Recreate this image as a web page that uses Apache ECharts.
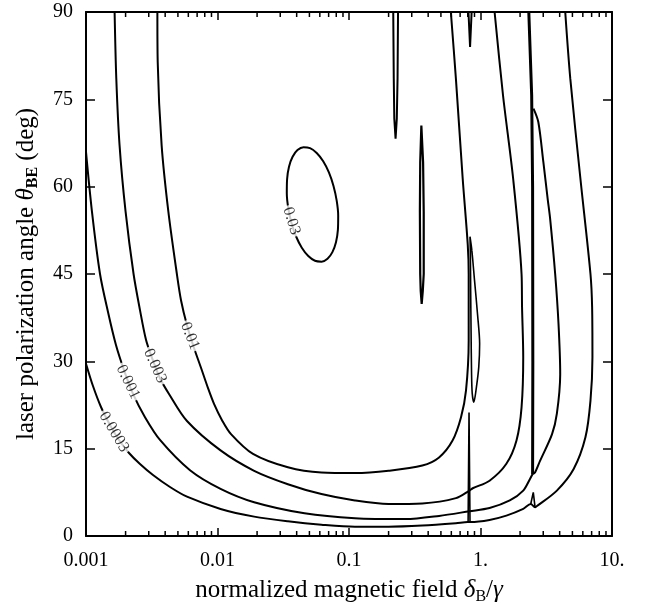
<!DOCTYPE html>
<html><head><meta charset="utf-8">
<script src="https://cdn.jsdelivr.net/npm/echarts@6/dist/echarts.min.js"></script>
<style>html,body{margin:0;padding:0;background:#fff}#c{width:645px;height:612px}</style>
</head><body><div id="c"></div>
<script>
// ---- axis ticks ----
const xTickValues = [0.001, 0.01, 0.1, 1, 10];
const xTickLabels = ['0.001', '0.01', '0.1', '1.', '10.'];
const xMinorTicks = [0.002,0.003,0.004,0.005,0.006,0.007,0.008,0.009,
                     0.02,0.03,0.04,0.05,0.06,0.07,0.08,0.09,
                     0.2,0.3,0.4,0.5,0.6,0.7,0.8,0.9,
                     2,3,4,5,6,7,8,9];
const yTickValues = [0, 15, 30, 45, 60, 75, 90];

// ---- contour 0.0003 ----
const c0003X = [0.001,0.00113,0.0013,0.001522,0.001782,0.002123,0.002574,0.003232,0.004353,0.00586,0.01055,0.019,0.0343,0.0617,0.111,0.2,0.361,0.65,0.80,0.838,1.172,1.573,2.113,2.41,2.6,2.673,3.808,5.11,6.28,6.86,7.1,7.06,6.86,5.75,4.82,4.41];
const c0003Y = [29.6,25.76,22.16,19.07,16.49,14.26,12.37,10.48,8.42,6.75,4.65,3.33,2.53,1.95,1.6,1.6,1.8,2.2,2.4,2.4,2.76,3.5,4.65,5.5,4.93,5.1,7.8,11.5,16.95,23.25,30.7,39.3,45,61.4,78.5,90];
const s0003aX = [0.805,0.818,0.832];
const s0003aY = [2.4,21.2,2.4];
const s0003bX = [2.41,2.52,2.6];
const s0003bY = [5.5,7.5,4.93];

// ---- contour 0.001 ----
const c001X = [0.001,0.00111,0.001278,0.00147,0.00169,0.001945,0.002278,0.00281,0.003653,0.00618,0.01055,0.019,0.0459,0.111,0.269,0.484,0.824,1.172,1.67,2.113,2.378,2.49];
const c001Y = [65.96,55.7,45.0,38.47,32.8,28.5,24.4,20.4,16.5,11.3,8.1,5.8,3.9,3.05,2.9,3.45,4.25,4.8,6.1,7.8,9.8,10.65];
const c001vX = [2.49,2.5,2.49,2.45,2.33];
const c001vY = [10.65,30,60,75.7,90];
const c001rX = [2.53,2.752,3.007,3.25,3.384,3.697,3.92,4.038,3.808,3.5,2.836,2.596,2.49];
const c001rY = [73.4,71.1,64.2,57.7,54.5,45.0,36.4,27.8,21.0,17.5,12.9,10.9,10.65];

// ---- contour 0.003 ----
const c003X = [0.00165,0.0017,0.0018,0.002,0.0023,0.002574,0.002859,0.003176,0.003653,0.004278,0.00586,0.01055,0.019,0.0343,0.0617,0.111,0.2,0.361,0.65,0.824,0.873,1.172,1.573,1.878,2.052,2.113,2.07,2.052,1.771,1.483,1.28];
const c003Y = [90,78.55,67.1,55.7,45,38.8,33.7,30.6,27.1,24.4,19.75,14.7,11.2,8.9,7.2,6.1,5.5,5.6,6.5,7.8,8.2,9.5,12.4,16.4,22.1,30.7,39.3,45,61.4,75.7,90];

// ---- contour 0.01 ----
const c01X = [0.00349,0.00351,0.00376,0.00423,0.00491,0.005278,0.00586,0.00663,0.00749,0.00847,0.00941,0.01082,0.01267,0.01862,0.0343,0.0617,0.111,0.2,0.361,0.484,0.613,0.711,0.776,0.813,0.813,0.80,0.732,0.65,0.595];
const c01Y = [90,81.4,67.1,55.7,45,40.5,36.2,32.3,28.9,25.4,22.7,19.9,17.5,14.1,11.8,10.9,10.8,11.2,12.1,13.5,16.4,20.4,25.0,33.55,45,50,61.4,78.55,90];
// narrow closed 0.01 loop near the resonance at ~0.9
const loop01X = [0.832,0.86,0.9,0.95,0.985,0.97,0.93,0.89,0.865,0.855,0.848,0.842,0.838,0.832,0.86];
const loop01Y = [51.4,49,44,38,33,29,25.5,23,24.5,28,35,42,48,51.4,49];

// ---- contour 0.03 (closed loop, first points repeated to close smoothly) ----
const c03X = [0.04902,0.05513,0.06187,0.06864,0.07478,0.07962,0.08232,0.08276,0.08061,0.07623,0.07033,0.06366,0.05681,0.05051,0.04508,0.04058,0.03725,0.03497,0.03383,0.03365,0.03454,0.03652,0.0396,0.04376,0.04902,0.05513,0.06187];
const c03Y = [48.09,47.27,47.10,47.60,48.75,50.45,52.58,55.02,57.59,60.12,62.44,64.36,65.78,66.61,66.78,66.28,65.13,63.43,61.28,58.85,56.29,53.76,51.44,49.52,48.09,47.27,47.10];

// ---- narrow resonance spikes ----
const spikeAX = [0.217,0.219,0.221,0.226,0.231,0.234,0.236];
const spikeAY = [90,78.6,71.7,68.25,71.7,78.6,90];
const spikeBX = [0.355,0.348,0.346,0.348,0.351,0.357,0.364,0.37,0.37,0.366,0.355];
const spikeBY = [70.5,64.2,55.7,45,42.1,39.85,42.1,45,55.7,64.2,70.5];
const spikeCX = [0.81,0.823,0.833,0.843,0.856];
const spikeCY = [90,86.6,84.0,86.6,90];

// ---- contour labels ----
const labelText = ['0.03','0.01','0.003','0.001','0.0003'];
const labelX = [0.03652,0.00618,0.003348,0.002086,0.001633];
const labelY = [54.1,34.35,29.2,26.45,17.86];
const labelRotate = [-73,-68,-66,-64,-59];

const FONT = '"Liberation Serif", "Times New Roman", serif';
function pairs(xs, ys){ return xs.map((x,i)=>[x, ys[i]]); }
function lineSeries(xs, ys, smooth, width){
  return {type:'line', data:pairs(xs,ys), showSymbol:false, symbol:'none', smooth:smooth||false,
    lineStyle:{color:'#000', width:width||2}, silent:true, animation:false, z:3};
}
const minorData = [];
xMinorTicks.forEach(v=>{ minorData.push([v,0]); minorData.push([v,90]); });

const chart = echarts.init(document.getElementById('c'));
const axisLine = {show:true, onZero:false, lineStyle:{color:'#000', width:2}};
const TS = 25;
const titleRich = {
  it:{fontStyle:'italic', fontFamily:FONT, fontSize:TS, color:'#000'},
  sub:{fontFamily:FONT, fontSize:16, color:'#000', verticalAlign:'bottom', lineHeight:17},
  subb:{fontFamily:FONT, fontSize:16, fontWeight:'bold', color:'#000', verticalAlign:'bottom', lineHeight:17}
};
chart.setOption({
  animation:false,
  backgroundColor:'#fff',
  grid:{left:86, right:33, top:12, bottom:76, containLabel:false},
  xAxis:[
    {type:'log', logBase:10, min:0.001, max:10, position:'bottom', axisLine:axisLine,
     axisTick:{show:true, inside:true, length:8, lineStyle:{color:'#000', width:1.5}},
     splitLine:{show:false}, minorTick:{show:false},
     axisLabel:{margin:15, color:'#000', fontFamily:FONT, fontSize:20,
       formatter:function(v){ for(let i=0;i<xTickValues.length;i++){ if(Math.abs(Math.log10(v)-Math.log10(xTickValues[i]))<1e-6) return xTickLabels[i]; } return ''; }},
     name:'normalized magnetic field {it|δ}{sub|B}/{it|γ}', nameLocation:'middle', nameGap:34,
     nameTextStyle:{color:'#000', fontFamily:FONT, fontSize:TS, lineHeight:29, rich:titleRich}},
    {type:'log', logBase:10, min:0.001, max:10, position:'top', axisLine:axisLine,
     axisTick:{show:true, inside:true, length:8, lineStyle:{color:'#000', width:1.5}},
     axisLabel:{show:false}, splitLine:{show:false}}
  ],
  yAxis:[
    {type:'value', min:0, max:90, interval:15, position:'left', axisLine:axisLine,
     axisTick:{show:true, inside:true, length:9, lineStyle:{color:'#000', width:1.5}},
     splitLine:{show:false},
     axisLabel:{margin:13, color:'#000', fontFamily:FONT, fontSize:20},
     name:'laser polarization angle {it|θ}{subb|BE} (deg)', nameLocation:'middle', nameGap:45, nameRotate:90,
     nameTextStyle:{color:'#000', fontFamily:FONT, fontSize:TS, lineHeight:29, rich:titleRich}},
    {type:'value', min:0, max:90, interval:15, position:'right', axisLine:axisLine,
     axisTick:{show:true, inside:true, length:9, lineStyle:{color:'#000', width:1.5}},
     axisLabel:{show:false}, splitLine:{show:false}}
  ],
  series:[
    lineSeries(c0003X, c0003Y, 0.3),
    lineSeries(s0003aX, s0003aY, false, 1.6),
    lineSeries(s0003bX, s0003bY, false, 1.6),
    lineSeries(c001X, c001Y, 0.3),
    lineSeries(c001vX, c001vY, false, 3),
    lineSeries(c001rX, c001rY, 0.3),
    lineSeries(c003X, c003Y, 0.3),
    lineSeries(c01X, c01Y, 0.3),
    lineSeries(loop01X, loop01Y, 0.3, 1.6),
    lineSeries(c03X, c03Y, 0.3),
    lineSeries(spikeAX, spikeAY, false, 2),
    lineSeries(spikeBX, spikeBY, false, 2.2),
    lineSeries(spikeCX, spikeCY, false, 2),
    {type:'scatter', symbolSize:0, silent:true, z:10,
     data: labelText.map((t,i)=>({value:[labelX[i], labelY[i]],
       label:{show:true, position:'inside', formatter:t, rotate:labelRotate[i], color:'#000',
         fontFamily:FONT, fontSize:16, backgroundColor:'#fff', padding:[0,2]}}))},
    {type:'custom', coordinateSystem:'cartesian2d', silent:true, z:5, clip:false,
     data:minorData,
     renderItem:function(params, api){
       const v = api.value(0), side = api.value(1);
       const p = api.coord([v, side]);
       const d = side === 0 ? -5 : 5;
       return {type:'line', shape:{x1:p[0], y1:p[1], x2:p[0], y2:p[1]+d}, style:{stroke:'#000', lineWidth:1.5}};
     }}
  ]
});
</script></body></html>
